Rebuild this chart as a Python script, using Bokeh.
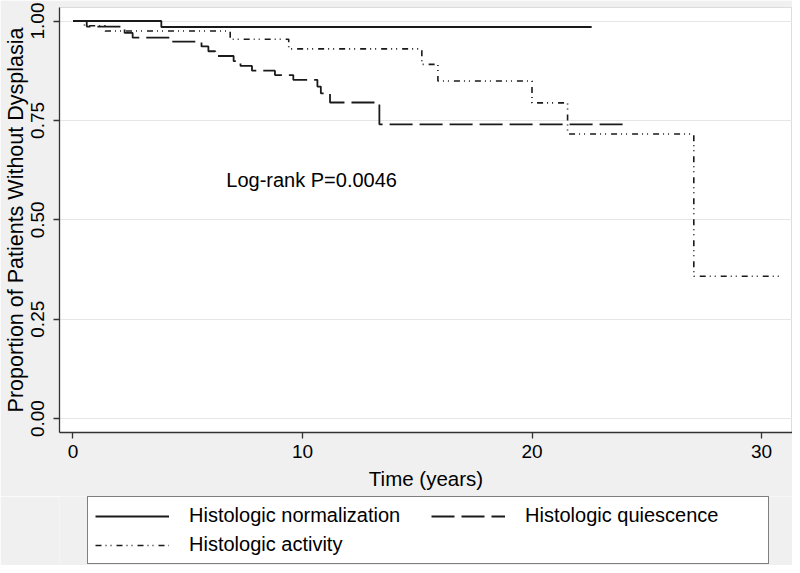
from bokeh.plotting import figure
from bokeh.layouts import column
from bokeh.models import Legend, LegendItem, FixedTicker, Range1d, Label
from bokeh.embed import file_html
from bokeh.resources import INLINE

# ---- data ----
norm_t = [0.0, 3.85, 22.6]
norm_s = [1.0, 0.985, 0.985]

quies_t = [0.0, 0.6, 2.25, 2.6, 4.3, 5.6, 5.9, 6.2, 7.0, 7.3, 7.8, 8.8, 9.6, 10.65, 10.8, 11.2, 13.35, 24.2]
quies_s = [1.0, 0.986, 0.970, 0.958, 0.948, 0.936, 0.924, 0.912, 0.899, 0.887, 0.875, 0.864, 0.852, 0.835, 0.818, 0.795, 0.740, 0.740]

act_t = [0.0, 0.5, 1.4, 6.85, 9.4, 15.2, 15.9, 20.0, 21.55, 27.05, 30.8]
act_s = [1.0, 0.988, 0.975, 0.954, 0.930, 0.891, 0.849, 0.794, 0.716, 0.358, 0.358]

x_ticks = [0, 10, 20, 30]
y_ticks = [0.0, 0.25, 0.5, 0.75, 1.0]
y_tick_labels = {0.0: "0.00", 0.25: "0.25", 0.5: "0.50", 0.75: "0.75", 1.0: "1.00"}

series_names = ["Histologic normalization", "Histologic quiescence", "Histologic activity"]
annot_text = "Log-rank P=0.0046"
annot_x, annot_y = 6.68, 0.60

FONT = "Liberation Sans"
INK = "#1a1a1a"
BG = "#f0f0f0"
W = 792

series = [(norm_t, norm_s), (quies_t, quies_s), (act_t, act_s)]
styles = [dict(line_color=INK, line_width=1.8),
          dict(line_color=INK, line_width=1.8, line_dash="23 7"),
          dict(line_color=INK, line_width=1.6, line_dash="6 4 1 4 1 5")]

p = figure(width=W, height=496, output_backend="svg", toolbar_location=None,
           x_range=Range1d(-0.587, 31.35), y_range=Range1d(-0.035, 1.034),
           min_border_left=58, min_border_right=0, min_border_top=7, min_border_bottom=64)

p.border_fill_color = BG
p.background_fill_color = "white"
p.outline_line_color = "#dcdcdc"
p.outline_line_width = 1

for (t, s), st in zip(series, styles):
    p.step(t, s, mode="after", **st)

lbl = Label(x=annot_x, y=annot_y, text=annot_text, text_font=FONT, text_font_size="20px",
            text_color="black", text_baseline="alphabetic")
p.add_layout(lbl)

# axes
p.xaxis.ticker = FixedTicker(ticks=x_ticks)
p.yaxis.ticker = FixedTicker(ticks=y_ticks)
p.yaxis.major_label_overrides = y_tick_labels
p.yaxis.major_label_orientation = "vertical"
for ax in (p.xaxis, p.yaxis):
    ax.axis_line_color = "#333333"
    ax.axis_line_width = 1.3
    ax.major_tick_line_color = "#333333"
    ax.major_tick_line_width = 1.3
    ax.major_tick_out = 6
    ax.major_tick_in = 0
    ax.minor_tick_out = 0
    ax.minor_tick_in = 0
    ax.major_label_text_font = FONT
    ax.major_label_text_font_size = "19px"
    ax.major_label_text_color = "black"
    ax.axis_label_text_font = FONT
    ax.axis_label_text_font_style = "normal"
    ax.axis_label_text_color = "black"
p.xaxis.axis_label = "Time (years)"
p.yaxis.axis_label = "Proportion of Patients Without Dysplasia"
p.xaxis.axis_label_text_font_size = "20.5px"
p.yaxis.axis_label_text_font_size = "21.5px"
p.xaxis.major_label_standoff = 6
p.yaxis.major_label_standoff = 9
p.xaxis.axis_label_standoff = 6
p.yaxis.axis_label_standoff = 1

p.xgrid.grid_line_color = None
p.ygrid.ticker = FixedTicker(ticks=y_ticks)
p.ygrid.grid_line_color = "#e6e6e6"
p.ygrid.grid_line_width = 1

# ---- legend strip below the chart (its key lines sit outside the strip's view) ----
LH = 69
q = figure(width=W, height=LH, output_backend="svg", toolbar_location=None,
           x_range=Range1d(100, 101), y_range=Range1d(100, 101),
           x_axis_type=None, y_axis_type=None,
           min_border_left=58, min_border_right=0, min_border_top=0, min_border_bottom=0)
q.border_fill_color = BG
q.background_fill_color = BG
q.outline_line_color = None
q.xgrid.grid_line_color = None
q.ygrid.grid_line_color = None
keys = [q.step(t, s, mode="after", **st) for (t, s), st in zip(series, styles)]

# column-major order: column 1 = normalization, activity; column 2 = quiescence
legend = Legend(items=[LegendItem(label=series_names[0], renderers=[keys[0]]),
                       LegendItem(label=series_names[2], renderers=[keys[2]]),
                       LegendItem(label=series_names[1], renderers=[keys[1]])],
                ncols=2, location=(28, 1))
legend.label_text_font = FONT
legend.label_text_font_size = "20px"
legend.label_text_color = "black"
legend.glyph_width = 74
legend.glyph_height = 20
legend.label_standoff = 20
legend.label_width = 236
legend.spacing = 6
legend.padding = 7
legend.margin = 0
legend.border_line_color = "black"
legend.border_line_width = 1
legend.background_fill_color = "white"
legend.background_fill_alpha = 1.0
q.add_layout(legend, "center")

layout = column(p, q, spacing=0)
open("out.html", "w").write(file_html(layout, INLINE))
